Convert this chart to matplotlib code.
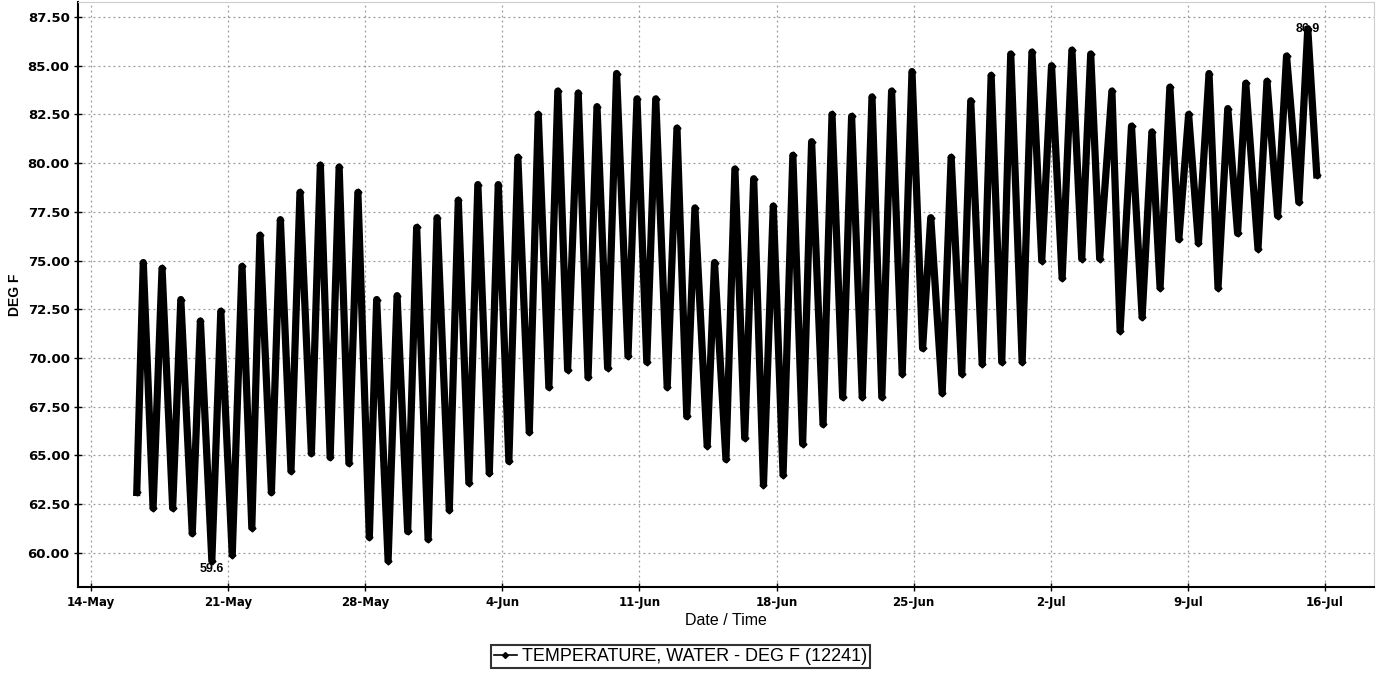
import matplotlib
matplotlib.use("Agg")
import matplotlib.pyplot as plt
import matplotlib.dates as mdates
import pandas as pd

plt.rcParams['font.family'] = ['Liberation Sans', 'DejaVu Sans']

# daily highs / lows, hours after 14-May 00:00
start = pd.Timestamp('2015-05-14')
hours = [56, 64, 76, 87, 100, 110, 124, 134, 148, 159, 173, 185, 197, 207, 221, 232,
         245, 256, 270, 281, 293, 304, 316, 327, 341, 350, 364, 375, 388, 399, 413, 424,
         439, 450, 463, 474, 488, 499, 512, 523, 537, 548, 561, 572, 584, 597, 609, 620,
         633, 644, 658, 669, 681, 692, 706, 718, 730, 740, 755, 764, 778, 789, 801, 812,
         824, 836, 848, 860, 872, 883, 897, 908, 921, 932, 945, 957, 969, 981, 994, 1006,
         1019, 1029, 1043, 1054, 1067, 1078, 1092, 1103, 1116, 1127, 1141, 1153, 1165, 1177,
         1190, 1202, 1214, 1225, 1236, 1251, 1261, 1275, 1288, 1300, 1310, 1322, 1333, 1345,
         1357, 1370, 1381, 1393, 1405, 1415, 1430, 1441, 1454, 1465, 1480, 1491, 1502]
temps = [63.1, 74.9, 62.3, 74.6, 62.3, 73.0, 61.0, 71.9, 59.6, 72.4, 59.9, 74.7, 61.3, 76.3,
         63.1, 77.1, 64.2, 78.5, 65.1, 79.9, 64.9, 79.8, 64.6, 78.5, 60.8, 73.0, 59.6, 73.2,
         61.1, 76.7, 60.7, 77.2, 62.2, 78.1, 63.6, 78.9, 64.1, 78.9, 64.7, 80.3, 66.2, 82.5,
         68.5, 83.7, 69.4, 83.6, 69.0, 82.9, 69.5, 84.6, 70.1, 83.3, 69.8, 83.3, 68.5, 81.8,
         67.0, 77.7, 65.5, 74.9, 64.8, 79.7, 65.9, 79.2, 63.5, 77.8, 64.0, 80.4, 65.6, 81.1,
         66.6, 82.5, 68.0, 82.4, 68.0, 83.4, 68.0, 83.7, 69.2, 84.7, 70.5, 77.2, 68.2, 80.3,
         69.2, 83.2, 69.7, 84.5, 69.8, 85.6, 69.8, 85.7, 75.0, 85.0, 74.1, 85.8, 75.1, 85.6,
         75.1, 83.7, 71.4, 81.9, 72.1, 81.6, 73.6, 83.9, 76.1, 82.5, 75.9, 84.6, 73.6, 82.8,
         76.4, 84.1, 75.6, 84.2, 77.3, 85.5, 78.0, 86.9, 79.4]
yticks = [60.0, 62.5, 65.0, 67.5, 70.0, 72.5, 75.0, 77.5, 80.0, 82.5, 85.0, 87.5]
label = 'TEMPERATURE, WATER - DEG F (12241)'

times = start + pd.to_timedelta(hours, unit='h')
s = pd.Series(temps, index=times)

fig = plt.figure(figsize=(13.83, 6.77), dpi=100)
ax = fig.add_axes([0.0564, 0.133, 0.937, 0.864])

ax.plot(s.index, s.values, color='black', lw=5.2, marker='D', ms=3.5,
        solid_joinstyle='round', label=label)

# min / max labels
imin = s.values.argmin()
imax = s.values.argmax()
ax.annotate(f'{s.values[imin]:.1f}', (s.index[imin], s.values[imin]), xytext=(0, -6),
            textcoords='offset points', ha='center', va='center', fontsize=9,
            fontweight='bold')
ax.annotate(f'{s.values[imax]:.1f}', (s.index[imax], s.values[imax]), xytext=(0, 0),
            textcoords='offset points', ha='center', va='center', fontsize=9,
            fontweight='bold')

ax.set_xlim(start - pd.Timedelta(hours=16), start + pd.Timedelta(hours=1572))
ax.set_ylim(58.25, 88.27)
ax.set_yticks(yticks)
ax.set_yticklabels([f'{v:.2f}' for v in yticks], fontsize=9.5, fontweight='bold',
                   family='DejaVu Sans')
ax.set_xticks(pd.date_range(start, periods=10, freq='7D'))
ax.xaxis.set_major_formatter(plt.FuncFormatter(
    lambda v, p: f"{mdates.num2date(v).day}-{mdates.num2date(v).strftime('%b')}"))
for t in ax.get_xticklabels():
    t.set_fontsize(8.5)
    t.set_fontweight('bold')
    t.set_family('DejaVu Sans')
ax.tick_params(direction='inout', length=6, width=1)
ax.tick_params(axis='y', pad=3)

ax.grid(True, color='#999999', ls=(0, (1.5, 2.5)), lw=0.9)
for side in ['top', 'right']:
    ax.spines[side].set_color('#cccccc')
ax.spines['left'].set_linewidth(1.5)
ax.spines['bottom'].set_linewidth(1.5)

ax.set_ylabel('DEG F', fontsize=10, fontweight='bold', labelpad=4)
ax.set_xlabel('Date / Time', fontsize=11.5, labelpad=3)

leg = ax.legend(loc='upper center', bbox_to_anchor=(0.465, -0.1), frameon=True,
                fancybox=False, fontsize=13, handlelength=1.3, borderpad=0.15,
                handletextpad=0.3, borderaxespad=0)
leg.get_frame().set_edgecolor('black')
leg.get_frame().set_linewidth(1.5)
for h in leg.get_lines():
    h.set_linewidth(1.2)
    h.set_markersize(3)

fig.savefig('out.png', dpi=100)
